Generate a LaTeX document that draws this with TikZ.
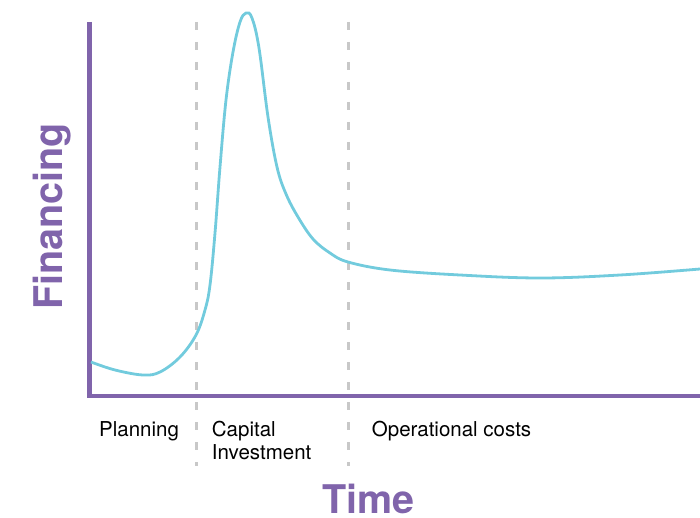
\documentclass[tikz,border=0pt]{standalone}
\usepackage{fontspec}
\setmainfont{TeX Gyre Heros}
\usepackage{tikz}
\usetikzlibrary{positioning}
\definecolor{axispurple}{HTML}{8064AB}
\definecolor{curvecyan}{HTML}{72CBDD}
\definecolor{dividergray}{HTML}{C8C8C8}
\tikzset{myaxis/.style = {draw=axispurple,line width=4.5pt,line join=miter},
	mycurve/.style = {draw=curvecyan,line width=2.8pt},
	mydivider/.style = {draw=dividergray,line width=3pt,dash pattern=on 8pt off 12pt},
	myphase/.style = {inner sep=0pt,font=\fontsize{20.5}{22.5}\selectfont},
	mytitle/.style = {inner sep=0pt,text=axispurple,font=\fontsize{39.5}{41}\selectfont\bfseries}}
\NewDocumentCommand{\fdivider}{m m}{%
	\coordinate (#1-top) at (#2,22);
	\coordinate (#1-bot) at (#2,466);
	\draw[mydivider] (#1-top) -- (#1-bot);
}

\begin{document}
\begin{tikzpicture}[x=1pt,y=-1pt]
\useasboundingbox (0,0) rectangle (700,518);
\fdivider{plan}{196}
\fdivider{capital}{348}
\coordinate (o) at (89.5,396);
\coordinate (ytop) at (89.5,22);
\coordinate (xend) at (700,396);
\draw[myaxis] (ytop) -- (o) -- (xend);
\draw[mycurve] plot[smooth,tension=0.6] coordinates {
	(91,362) (115,370) (143,375) (160,372) (180,357) (196,335) (205,310)
	(210,285) (215,233) (220,167) (226,100) (233,52) (240,22) (246,13)
	(252,18) (259,48) (268,117) (277,167) (286,194) (298,217) (313,239)
	(330,253) (348,262) (390,270) (460,275) (540,278) (620,275) (700,269)};
\node[myphase,anchor=base west] (planning) at (99,436.7) {Planning};
\node[myphase,anchor=base west] (capital) at (211.7,436.7) {Capital};
\node[myphase,anchor=base west] (investment) at ([yshift=-22.5pt]capital.base west) {Investment};
\node[myphase,anchor=base west] (operational) at (371.7,436.7) {Operational costs};
\node[mytitle,anchor=base west] (time) at (322,513.5) {Time};
\node[mytitle,anchor=base west,rotate=90] (financing) at (62,310) {Financing};
\end{tikzpicture}
\end{document}
